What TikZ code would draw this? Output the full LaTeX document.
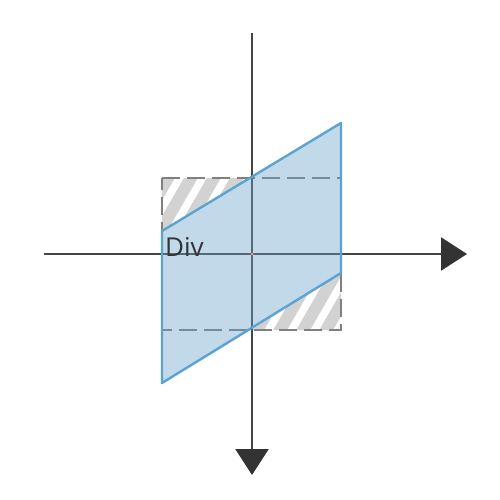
\documentclass[tikz,border=0pt]{standalone}
\usepackage{fontspec}
\setmainfont{Open Sans}
\usetikzlibrary{arrows.meta}
\definecolor{axisgray}{HTML}{454545}
\definecolor{tipgray}{HTML}{333333}
\definecolor{dashgray}{HTML}{808080}
\definecolor{hatchgray}{HTML}{D2D2D2}
\definecolor{paraline}{HTML}{5BA3D0}
\definecolor{parafill}{RGB}{100,160,200}
\definecolor{textgray}{HTML}{333333}
\tikzset{
  axis/.style={draw=axisgray, line width=2.4pt, -{Triangle[length=26pt,width=33pt,color=tipgray]}},
  dashbox/.style={draw=dashgray, line width=2.4pt, dash pattern=on 18pt off 7pt},
  hatchline/.style={draw=hatchgray, line width=12pt},
  para/.style={draw=paraline, line width=2.4pt, fill=parafill, fill opacity=0.4, line join=round},
  lbl/.style={font=\fontsize{26}{26}\selectfont, text=textgray, inner sep=0pt, anchor=base west}
}
\begin{document}
\begin{tikzpicture}[x=1pt,y=-1pt]
\useasboundingbox (0,0) rectangle (500,500);
\fill[white] (0,0) rectangle (500,500);
% coordinates
\coordinate (O) at (252,254);
\coordinate (xl) at (44,254);
\coordinate (xr) at (467,254);
\coordinate (yt) at (252,33);
\coordinate (yb) at (252,475);
\coordinate (s1) at (162,178);
\coordinate (s2) at (341,178);
\coordinate (s3) at (341,330);
\coordinate (s4) at (162,330);
\coordinate (p1) at (162,231);
\coordinate (p2) at (341,123);
\coordinate (p3) at (341,273);
\coordinate (p4) at (162,383);
% hatching top-left
\begin{scope}
\clip (s1) -- (251,178) -- (p1) -- cycle;
\foreach \i in {-3,...,6} {
  \draw[hatchline] ({149.3+\i*23},250) -- ++(60,-103.9);
}
\end{scope}
% hatching bottom-right
\begin{scope}
\clip (p3) -- (s3) -- (251,330) -- cycle;
\foreach \i in {-6,...,4} {
  \draw[hatchline] ({294.5+\i*23},345) -- ++(60,-103.9);
}
\end{scope}
% dashed square
\draw[dashbox] (s1) -- (s2) -- (s3) -- (s4) -- cycle;
% axes
\draw[axis] (xl) -- (xr);
\draw[axis] (yt) -- (yb);
% parallelogram
\draw[para] (p1) -- (p2) -- (p3) -- (p4) -- cycle;
% center dot
\fill[red!45] (O) circle (1.5pt);
% label
\node[lbl] (div) at (165,256) {Div};
\end{tikzpicture}
\end{document}
